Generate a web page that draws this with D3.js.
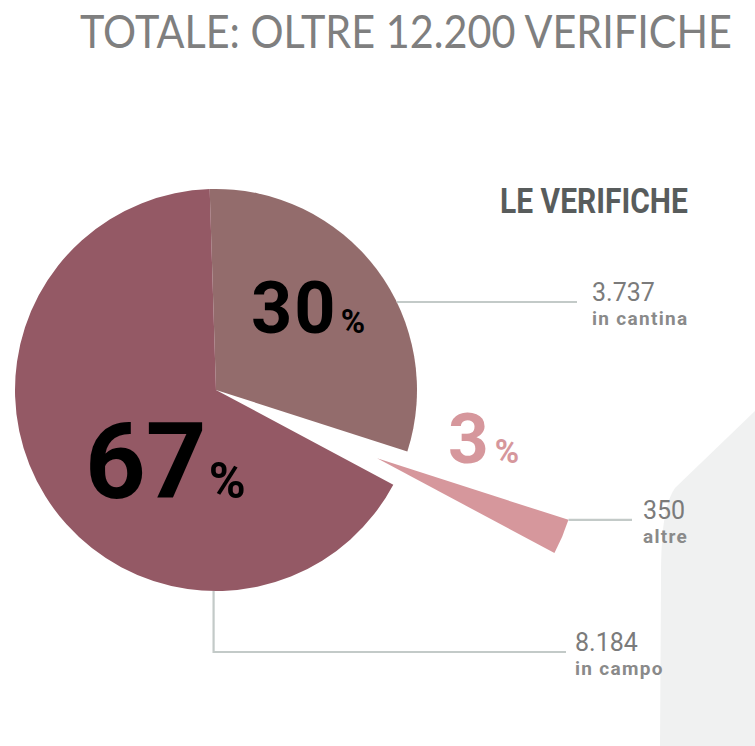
<!DOCTYPE html>
<html>
<head>
<meta charset="utf-8">
<script src="https://cdn.jsdelivr.net/npm/d3@7"></script>
<style>
  html, body { margin: 0; padding: 0; background: #fff; }
  svg { display: block; }
</style>
</head>
<body>
<div id="chart"></div>
<script>
// chart values
const title = 'TOTALE: OLTRE 12.200 VERIFICHE'
const subtitle = 'LE VERIFICHE'
const categories = ['in cantina', 'altre', 'in campo']
const values = [3737, 350, 8184]
const valueLabels = ['3.737', '350', '8.184']
const percents = ['30', '3', '67']

const colors = ['#936c6c', '#d6979c', '#945965']
const pctColors = ['#000', '#d6979c', '#000']

const width = 755, height = 746
const cx = 216, cy = 390, r = 201
const explode = 175
const startA = -1.8 * Math.PI / 180

const svg = d3.select('#chart')
.append('svg')
.attr('width', width)
.attr('height', height)

// grey shape in the corner
svg.append('path')
.attr('d', 'M755,411 L675,488 C663,505 661,540 661,580 L660,746 L755,746 Z')
.style('fill', '#f0f1f1')

// squeeze a text to a given width with a horizontal scale
const fitText = (sel, x, y, w) => {
	let n = sel.node().getComputedTextLength()
	sel.attr('transform', `translate(${x},${y}) scale(${Math.min(1, w / n)},1)`)
}

const titleText = svg.append('text')
.style('font-family', 'Lato, sans-serif')
.style('font-size', '46px')
.style('fill', '#7f7f7f')
.text(title)
fitText(titleText, 80, 48, 652)

const subText = svg.append('text')
.style('font-family', 'Roboto, sans-serif')
.style('font-weight', 700)
.style('font-size', '36px')
.style('fill', '#585c5c')
.text(subtitle)
fitText(subText, 500, 213, 188)

const data = categories.map((c, i) => ({ name: c, value: values[i], label: valueLabels[i], pct: percents[i] }))

const pie = d3.pie()
.sort(null)
.value(d => d.value)
.startAngle(startA)
.endAngle(startA + 2 * Math.PI)

const arcs = pie(data)

const arc = d3.arc().innerRadius(0).outerRadius(r)

// offset for the exploded slice
const shift = d => {
	if (d.data.name !== 'altre') return [0, 0]
	let m = (d.startAngle + d.endAngle) / 2
	return [explode * Math.sin(m), -explode * Math.cos(m)]
}

const g = svg.append('g')
.attr('transform', `translate(${cx},${cy})`)

g.selectAll('path.slice')
.data(arcs)
.enter()
.append('path')
.attr('class', 'slice')
.attr('transform', d => `translate(${shift(d)})`)
.attr('d', arc)
.style('fill', (d, i) => colors[i])

// leader lines
const lineColor = '#c3cac8'
const pt = (a, rad, off) => [off[0] + rad * Math.sin(a), off[1] - rad * Math.cos(a)]

const lines = []
// in cantina: horizontal line from the arc edge
{
	let y = 302 - cy
	let x = Math.sqrt(r * r - y * y)
	lines.push({ pts: [[x, y], [577 - cx, y]], label: arcs[0].data, tx: 592 - cx, ty: y })
}
// altre: from the outer corner of the exploded slice
{
	let d = arcs[1]
	let p = pt(d.startAngle, r, shift(d))
	lines.push({ pts: [p, [632 - cx, p[1]]], label: d.data, tx: 643 - cx, ty: p[1] })
}
// in campo: down from the bottom of the pie, then right
{
	let p = pt(Math.PI + 0.012, r, [0, 0])
	let y = 652 - cy
	lines.push({ pts: [p, [p[0], y], [566 - cx, y]], label: arcs[2].data, tx: 575 - cx, ty: y })
}

g.selectAll('path.leader')
.data(lines)
.enter()
.append('path')
.attr('class', 'leader')
.attr('d', d => d3.line()(d.pts))
.style('fill', 'none')
.style('stroke', lineColor)
.style('stroke-width', 2.2)

const lbl = g.selectAll('g.lbl')
.data(lines)
.enter()
.append('g')
.attr('class', 'lbl')
.attr('transform', d => `translate(${d.tx},${d.ty})`)

lbl.append('text')
.attr('y', -1)
.style('font-family', 'Roboto, sans-serif')
.style('font-weight', 400)
.style('font-size', '25px')
.style('fill', '#7b7b7b')
.text(d => d.label.label)

lbl.append('text')
.attr('y', 23)
.style('font-family', 'Roboto, sans-serif')
.style('font-weight', 700)
.style('font-size', '19px')
.style('letter-spacing', '1.3px')
.style('fill', '#8a8a8a')
.text(d => d.label.name)

// percentage labels
const pctPos = [
	{ x: 251, y: 333, big: 72, small: 33, ls: 2, dx: 3 },
	{ x: 448, y: 463, big: 71, small: 33, ls: 2, dx: 4 },
	{ x: 85, y: 498, big: 106, small: 50, ls: 0, dx: 2 }
]

const pt2 = svg.selectAll('text.pct')
.data(arcs)
.enter()
.append('text')
.attr('class', 'pct')
.attr('x', (d, i) => pctPos[i].x)
.attr('y', (d, i) => pctPos[i].y)
.style('font-family', 'Roboto, sans-serif')
.style('font-weight', 700)
.style('fill', (d, i) => pctColors[i])

pt2.append('tspan')
.style('font-size', (d, i) => pctPos[i].big + 'px')
.style('letter-spacing', (d, i) => pctPos[i].ls + 'px')
.text(d => d.data.pct)

pt2.append('tspan')
.attr('dx', (d, i) => pctPos[i].dx)
.style('font-size', (d, i) => pctPos[i].small + 'px')
.text('%')
</script>
</body>
</html>
